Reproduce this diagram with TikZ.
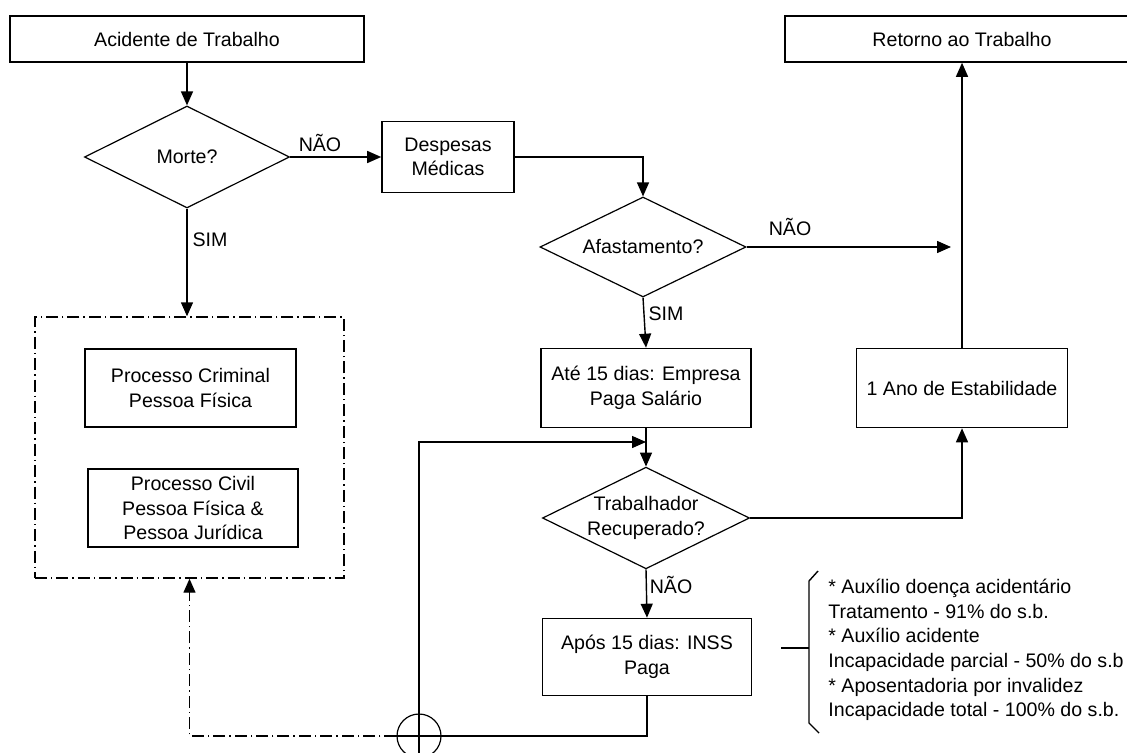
\documentclass[tikz,border=0pt]{standalone}
\usepackage{fontspec}
\setmainfont{Liberation Sans}
\usetikzlibrary{shapes.geometric, arrows.meta, positioning}

\begin{document}
\begin{tikzpicture}[x=0.5pt, y=-0.5pt,
    every node/.style={font=\fontsize{9.8}{12.3}\selectfont},
    box/.style={draw, line width=0.8pt, align=center, inner sep=0pt},
    decision/.style={draw, diamond, aspect=2, line width=0.6pt, align=center, inner sep=0pt},
    flow/.style={line width=0.7pt, -{Triangle[length=7pt,width=6pt]}},
    link/.style={line width=0.7pt},
    groupline/.style={dash pattern=on 6pt off 2pt on 0.7pt off 2pt},
    answer/.style={inner sep=1pt}]
    \useasboundingbox (0,0) rectangle (1127,753);
    % Main boxes
    \node[box, minimum width=177pt, minimum height=23pt] (acid) at (187,39) {Acidente de Trabalho};
    \node[box, minimum width=177pt, minimum height=23pt] (ret) at (962,39) {Retorno ao Trabalho};
    \node[decision, minimum width=102.5pt, minimum height=51pt] (morte) at (187,157) {Morte?};
    \node[box, minimum width=66pt, minimum height=35.5pt] (desp) at (448,157) {Despesas\\Médicas};
    \node[decision, minimum width=103pt, minimum height=50pt] (afast) at (643,247) {Afastamento?};
    \node[box, minimum width=105pt, minimum height=39.5pt] (ate) at (646,388) {Até 15 dias: Empresa\\Paga Salário};
    \node[box, minimum width=105.5pt, minimum height=39.5pt] (ano) at (962,388) {1 Ano de Estabilidade};
    \node[decision, minimum width=103.5pt, minimum height=49.5pt] (trab) at (646,518) {Trabalhador\\Recuperado?};
    \node[box, minimum width=104.5pt, minimum height=38.5pt] (apos) at (647,657) {Após 15 dias: INSS\\Paga};
    % Processes on the left
    \node[draw, link, groupline, minimum width=154.5pt, minimum height=130.5pt, inner sep=0pt] (grp) at (189.5,447.5) {};
    \node[box, minimum width=105.5pt, minimum height=39pt] (crim) at (190.5,388) {Processo Criminal\\Pessoa Física};
    \node[box, minimum width=105pt, minimum height=39pt] (civil) at (193,508) {Processo Civil\\Pessoa Física \&\\Pessoa Jurídica};
    \node[circle, draw, line width=0.6pt, minimum size=22pt, inner sep=0pt] (junc) at (419,736) {};
    % Answers
    \node[answer] (nao1) at (320,143) {NÃO};
    \node[answer] (sim1) at (210,240) {SIM};
    \node[answer] (nao2) at (790,227) {NÃO};
    \node[answer] (sim2) at (666,314) {SIM};
    \node[answer] (nao3) at (671,585) {NÃO};
    % Benefits
    \node[anchor=west, align=left, inner sep=0pt] (benef) at (828,650) {* Auxílio doença acidentário\\Tratamento - 91\% do s.b.\\* Auxílio acidente\\Incapacidade parcial - 50\% do s.b\\* Aposentadoria por invalidez\\Incapacidade total - 100\% do s.b.};
    \draw[link] (781,648) -- (809,648);
    \draw[link] (818,571) -- (809,581) -- (809,723) -- (819,733);
    % Connectors
    \coordinate (loopbot) at (419,753);
    \coordinate (loopin) at (646,442);
    \coordinate (retin) at (951,247);
    \draw[flow] (acid) -- (morte);
    \draw[flow] (morte.east) -- (desp.west);
    \draw[flow] (morte.south) -- (morte.south |- grp.north);
    \draw[flow] (desp.east) -| (afast.north);
    \draw[flow] (afast.east) -- (retin);
    \draw[flow] (afast.south) -- (ate.north);
    \draw[flow] (ano.north) -- (ret.south);
    \draw[flow] (ate.south) -- (trab.north);
    \draw[flow] (trab.east) -| (ano.south);
    \draw[flow] (trab.south) -- (apos.north);
    \draw[flow] (loopbot) |- (loopin);
    \draw[link] (apos.south) |- (junc.west);
    \draw[flow, groupline] (junc.west) -| (grp.south);
\end{tikzpicture}
\end{document}
